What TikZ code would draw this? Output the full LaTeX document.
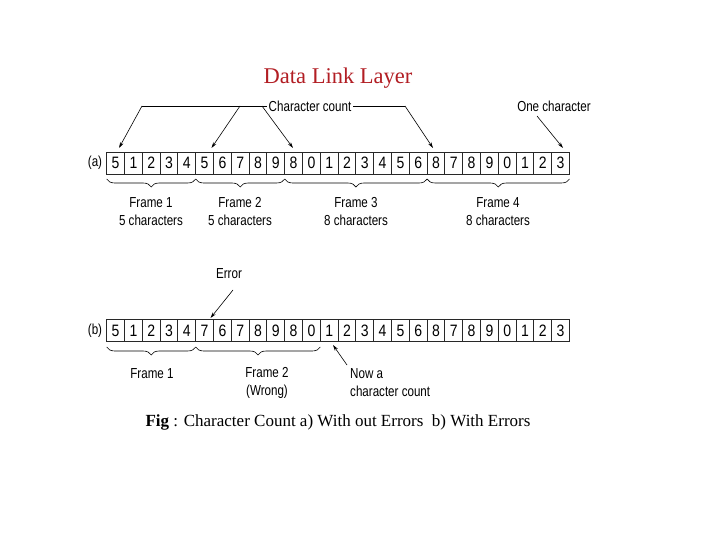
\documentclass[tikz,border=0pt]{standalone}
\usepackage{fontspec}
\setmainfont{Liberation Serif}
\newfontfamily\labfont[FakeStretch=0.8]{Liberation Sans}
\newfontfamily\digfont[FakeStretch=0.85]{Liberation Sans}
\usetikzlibrary{arrows.meta,decorations.pathreplacing}
\definecolor{titlered}{RGB}{178,30,36}
\definecolor{cellline}{RGB}{40,40,40}
\tikzset{
  cell/.style={draw=cellline,line width=0.9pt,minimum width=17.8pt,minimum height=22pt,inner sep=0pt,font=\digfont\fontsize{16.5}{16.5}\selectfont},
  lab/.style={inner sep=2pt,font=\labfont\fontsize{14.5}{18}\selectfont},
  arr/.style={line width=0.6pt,-{Stealth[length=6pt,width=3.5pt]}},
  plain/.style={line width=0.6pt},
  brc/.style={line width=0.6pt,decorate,decoration={brace,mirror,amplitude=8pt}},
}
\begin{document}
\begin{tikzpicture}[x=1pt,y=-1pt]
\useasboundingbox (0,0) rectangle (720,540);
% title
\node[text=titlered,font=\fontsize{22.5}{24}\selectfont] (title) at (338,78) {Data Link Layer};
% row a
\node[lab] (la) at (95,163) {(a)};
\foreach \v [count=\i] in {5,1,2,3,4,5,6,7,8,9,8,0,1,2,3,4,5,6,8,7,8,9,0,1,2,3}
  \node[cell] (a\i) at ({106.7+17.8*(\i-0.5)},163) {\v};
% row b
\node[lab] (lb) at (95,330.5) {(b)};
\foreach \v [count=\i] in {5,1,2,3,4,7,6,7,8,9,8,0,1,2,3,4,5,6,8,7,8,9,0,1,2,3}
  \node[cell] (b\i) at ({106.7+17.8*(\i-0.5)},330.5) {\v};
% character count
\node[lab] (cc) at (310,106) {Character count};
\coordinate (ccL) at (142,106);
\coordinate (ccM) at (240,106);
\coordinate (ccN) at (262,106);
\coordinate (ccR) at (405,106);
\coordinate (t1) at (119,148);
\coordinate (t2) at (211.5,148);
\coordinate (t3) at (293,148);
\coordinate (t4) at (433,148);
\draw[plain] (cc.west) -- (ccL);
\draw[arr] (ccL) -- (t1);
\draw[arr] (ccM) -- (t2);
\draw[arr] (ccN) -- (t3);
\draw[plain] (cc.east) -- (ccR);
\draw[arr] (ccR) -- (t4);
% one character
\node[lab] (oc) at (554,106) {One character};
\coordinate (ocS) at (537,116);
\coordinate (t5) at (563,148);
\draw[arr] (ocS) -- (t5);
% braces a
\draw[brc] (106.7,179) -- (195.7,179);
\draw[brc] (195.7,179) -- (284.7,179);
\draw[brc] (284.7,179) -- (427.1,179);
\draw[brc] (427.1,179) -- (569.5,179);
\node[lab,align=center] (fa1) at (151,212) {Frame 1\\5 characters};
\node[lab,align=center] (fa2) at (240,212) {Frame 2\\5 characters};
\node[lab,align=center] (fa3) at (356,212) {Frame 3\\8 characters};
\node[lab,align=center] (fa4) at (498,212) {Frame 4\\8 characters};
% error
\node[lab] (err) at (229,274) {Error};
\coordinate (errS) at (233,290);
\coordinate (t6) at (210.5,318);
\draw[arr] (errS) -- (t6);
% braces b
\draw[brc] (106.7,347) -- (195.7,347);
\draw[brc] (195.7,347) -- (320.3,347);
\node[lab] (fb1) at (152,374) {Frame 1};
\node[lab,align=center] (fb2) at (267,383) {Frame 2\\(Wrong)};
% now a character count
\node[lab,align=left,anchor=west] (now) at (348,383) {Now a\\character count};
\coordinate (nowS) at (347,365);
\coordinate (t7) at (333,345);
\draw[arr] (nowS) -- (t7);
% caption
\node[font=\fontsize{17}{18}\selectfont] (cap) at (338,422) {\textbf{Fig} : Character Count a) With out Errors\ \ b) With Errors};
\end{tikzpicture}
\end{document}
